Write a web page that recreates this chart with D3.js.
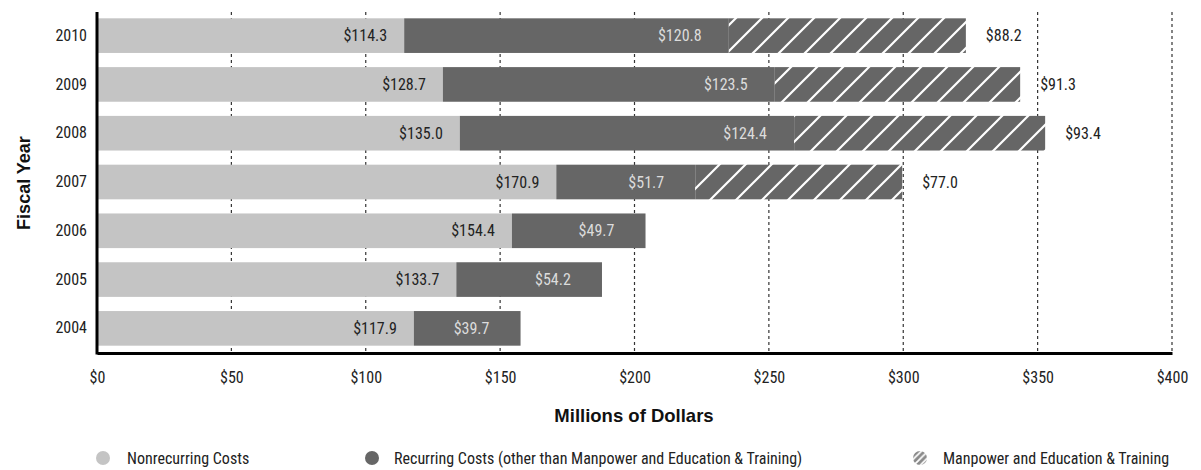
<!DOCTYPE html>
<html>
<head>
<meta charset="utf-8">
<script src="https://cdn.jsdelivr.net/npm/d3@7"></script>
<style>
  html, body { margin: 0; padding: 0; background: #fff; }
  svg text { font-family: "Liberation Sans Narrow", "Arial Narrow", "Roboto Condensed", sans-serif; }
  svg text.title { font-family: "Liberation Sans", Arial, sans-serif; }
</style>
</head>
<body>
<svg id="chart" width="1201" height="470"></svg>
<script>
const years = ["2010", "2009", "2008", "2007", "2006", "2005", "2004"];
const nonrecurring = [114.3, 128.7, 135.0, 170.9, 154.4, 133.7, 117.9];
const recurring = [120.8, 123.5, 124.4, 51.7, 49.7, 54.2, 39.7];
const manpower = [88.2, 91.3, 93.4, 77.0, null, null, null];
const xTicks = [0, 50, 100, 150, 200, 250, 300, 350, 400];
const legendLabels = ["Nonrecurring Costs", "Recurring Costs (other than Manpower and Education & Training)", "Manpower and Education & Training"];

const svg = d3.select("#chart");
const light = "#c4c4c4", dark = "#666666";
const fs = 16;

const x = d3.scaleLinear().domain([0, 400]).range([97, 1172]);
const y = d3.scaleBand().domain(years).range([11, 353]).paddingInner(0.29).paddingOuter(0.15);

// hatch pattern
const defs = svg.append("defs");
const pat = defs.append("pattern").attr("id", "hatch").attr("patternUnits", "userSpaceOnUse")
  .attr("width", 26).attr("height", 26);
pat.append("rect").attr("width", 26).attr("height", 26).attr("fill", dark);
pat.append("path").attr("d", "M0,26 L26,0 M-3,3 L3,-3 M23,29 L29,23")
  .attr("stroke", "#fff").attr("stroke-width", 2.2);

const pat2 = defs.append("pattern").attr("id", "hatchSmall").attr("patternUnits", "userSpaceOnUse")
  .attr("width", 6.5).attr("height", 6.5).attr("x", 0.5).attr("y", 0.5);
pat2.append("rect").attr("width", 6.5).attr("height", 6.5).attr("fill", "#8a8a8a");
pat2.append("path").attr("d", "M0,6.5 L6.5,0 M-1.5,1.5 L1.5,-1.5 M5,8 L8,5")
  .attr("stroke", "#fff").attr("stroke-width", 1.8);

// gridlines
svg.append("g").selectAll("line").data(xTicks.filter(d => d > 0)).join("line")
  .attr("x1", d => x(d)).attr("x2", d => x(d))
  .attr("y1", 12).attr("y2", 353)
  .attr("stroke", "#333").attr("stroke-width", 1.2).attr("stroke-dasharray", "3,3");

// bars
const rows = years.map((yr, i) => ({ yr, a: nonrecurring[i], b: recurring[i], c: manpower[i] }));
const g = svg.append("g");
g.selectAll(".nr").data(rows).join("rect")
  .attr("x", x(0)).attr("y", d => y(d.yr))
  .attr("width", d => x(d.a) - x(0)).attr("height", y.bandwidth()).attr("fill", light);
g.selectAll(".rc").data(rows).join("rect")
  .attr("x", d => x(d.a)).attr("y", d => y(d.yr))
  .attr("width", d => x(d.a + d.b) - x(d.a)).attr("height", y.bandwidth()).attr("fill", dark);
g.selectAll(".mp").data(rows.filter(d => d.c != null)).join("rect")
  .attr("x", d => x(d.a + d.b)).attr("y", d => y(d.yr))
  .attr("width", d => x(d.a + d.b + d.c) - x(d.a + d.b)).attr("height", y.bandwidth()).attr("fill", "url(#hatch)");

// value labels
const fmt = v => "$" + v.toFixed(1);
const cy = d => y(d.yr) + y.bandwidth() / 2;
g.selectAll(".lnr").data(rows).join("text")
  .attr("x", d => x(d.a) - 17).attr("y", cy).attr("dy", "0.35em")
  .attr("text-anchor", "end").attr("font-size", fs).attr("fill", "#222").text(d => fmt(d.a));
g.selectAll(".lrc").data(rows).join("text")
  .attr("x", d => x(d.a + d.b) - 49).attr("y", cy).attr("dy", "0.35em")
  .attr("text-anchor", "middle").attr("font-size", fs).attr("fill", "#dcdcdc").text(d => fmt(d.b));
g.selectAll(".lmp").data(rows.filter(d => d.c != null)).join("text")
  .attr("x", d => x(d.a + d.b + d.c) + 20).attr("y", cy).attr("dy", "0.35em")
  .attr("text-anchor", "start").attr("font-size", fs).attr("fill", "#222").text(d => fmt(d.c));

// axes
const xAxis = svg.append("g").attr("transform", "translate(0,353)")
  .call(d3.axisBottom(x).tickValues(xTicks).tickFormat(d => "$" + d).tickSize(0).tickPadding(19));
xAxis.select(".domain").attr("stroke", "#000").attr("stroke-width", 3);
xAxis.selectAll("text").attr("font-size", fs).attr("fill", "#222")
  .style("font-family", "'Liberation Sans Narrow', 'Arial Narrow', 'Roboto Condensed', sans-serif");

const yAxis = svg.append("g").attr("transform", "translate(97,0)")
  .call(d3.axisLeft(y).tickSize(0).tickPadding(10));
yAxis.select(".domain").attr("d", "M0,12V354.5").attr("stroke", "#000").attr("stroke-width", 3);
yAxis.selectAll("text").attr("font-size", fs).attr("fill", "#222")
  .style("font-family", "'Liberation Sans Narrow', 'Arial Narrow', 'Roboto Condensed', sans-serif");

// titles
svg.append("text").attr("class", "title").attr("x", 634).attr("y", 416).attr("dy", "0.35em")
  .attr("text-anchor", "middle").attr("font-size", 18.5).attr("font-weight", "bold").attr("fill", "#111")
  .text("Millions of Dollars");
svg.append("text").attr("class", "title").attr("transform", "translate(24,183) rotate(-90)").attr("dy", "0.35em")
  .attr("text-anchor", "middle").attr("font-size", 18).attr("font-weight", "bold").attr("fill", "#111")
  .text("Fiscal Year");

// legend
const legY = 458;
const leg = [
  { cx: 103, tx: 127, fill: light },
  { cx: 372, tx: 394, fill: dark },
  { cx: 920, tx: 943, fill: "url(#hatchSmall)" }
];
svg.append("g").selectAll("circle").data(leg).join("circle")
  .attr("cx", d => d.cx).attr("cy", legY).attr("r", 7).attr("fill", d => d.fill);
svg.append("g").selectAll("text").data(leg).join("text")
  .attr("x", d => d.tx).attr("y", legY).attr("dy", "0.35em")
  .attr("font-size", 16).attr("fill", "#222").text((d, i) => legendLabels[i]);
</script>
</body>
</html>
